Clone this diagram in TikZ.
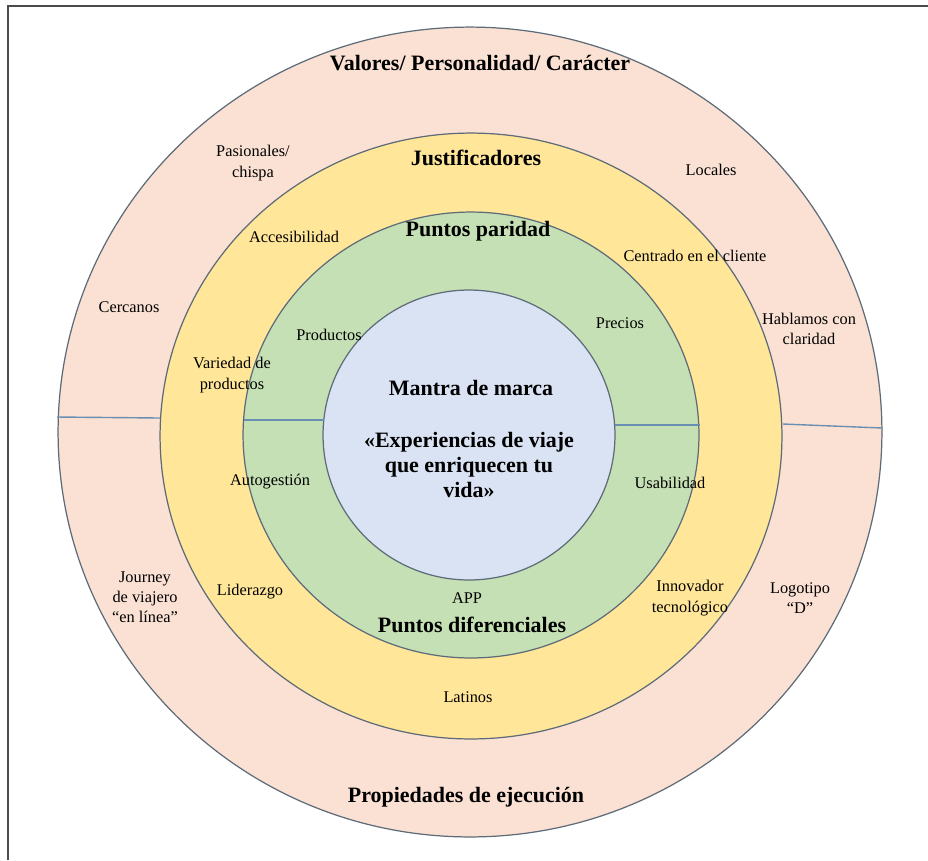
\documentclass[tikz,border=0pt]{standalone}
\usepackage{fontspec}
\setmainfont{Liberation Serif}
\usetikzlibrary{positioning}

\definecolor{ringpink}{HTML}{FAE1D3}
\definecolor{ringyellow}{HTML}{FFE699}
\definecolor{ringgreen}{HTML}{C5E0B4}
\definecolor{ringblue}{HTML}{DAE3F3}
\definecolor{ringline}{HTML}{5E6B78}
\definecolor{splitline}{HTML}{6B8FB3}

\begin{document}
\begin{tikzpicture}[x=0.02cm, y=-0.02cm,
    ring/.style={draw=ringline, line width=0.7pt},
    split/.style={draw=splitline, line width=0.8pt},
    head/.style={font=\fontsize{12.5}{14}\selectfont\bfseries, align=center, inner sep=1pt},
    lbl/.style={font=\fontsize{9.3}{11.5}\selectfont, align=center, inner sep=1pt}]
    \useasboundingbox (0,0) rectangle (928,860);
    \draw[line width=0.9pt, black!70] (8,860) -- (8,6) -- (928,6);

    % rings, outside in
    \filldraw[ring, fill=ringpink]   (470,432) ellipse [x radius=8.24cm, y radius=8.10cm];
    \filldraw[ring, fill=ringyellow] (471,436) ellipse [x radius=6.22cm, y radius=6.06cm];
    \filldraw[ring, fill=ringgreen]  (471,435) ellipse [x radius=4.56cm, y radius=4.46cm];
    \filldraw[ring, fill=ringblue]   (469,435) ellipse [x radius=2.92cm, y radius=2.90cm];

    % dividing lines
    \draw[split] (57,417) -- (160,418);
    \draw[split] (244,420) -- (324,420);
    \draw[split] (615,425) -- (700,425);
    \draw[split] (783,424) -- (882,428);

    % headings
    \node[head] (valores)  at (480,63)  {Valores/ Personalidad/ Carácter};
    \node[head] (justif)   at (476,158) {Justificadores};
    \node[head] (paridad)  at (478,231) {Puntos paridad};
    \node[head] (mantra)   at (471,388) {Mantra de marca};
    \node[head] (frase)    at (469,465) {«Experiencias de viaje\\que enriquecen tu\\vida»};
    \node[head] (difer)    at (472,625) {Puntos diferenciales};
    \node[head] (ejec)     at (466,797) {Propiedades de ejecución};

    % labels
    \node[lbl] (pasion)    at (253,163) {Pasionales/\\chispa};
    \node[lbl] (locales)   at (711,170) {Locales};
    \node[lbl] (acceso)    at (294,237) {Accesibilidad};
    \node[lbl] (centrado)  at (695,256) {Centrado en el cliente};
    \node[lbl] (cercanos)  at (129,307) {Cercanos};
    \node[lbl] (productos) at (329,335) {Productos};
    \node[lbl] (precios)   at (620,323) {Precios};
    \node[lbl] (hablamos)  at (809,329) {Hablamos con\\claridad};
    \node[lbl] (variedad)  at (232,375) {Variedad de\\productos};
    \node[lbl] (autoges)   at (270,482) {Autogestión};
    \node[lbl] (usab)      at (670,483) {Usabilidad};
    \node[lbl] (journey)   at (145,597) {Journey\\de viajero\\“en línea”};
    \node[lbl] (lider)     at (250,592) {Liderazgo};
    \node[lbl] (innova)    at (690,598) {Innovador\\tecnológico};
    \node[lbl] (logo)      at (800,598) {Logotipo\\“D”};
    \node[lbl] (app)       at (467,598) {APP};
    \node[lbl] (latinos)   at (468,697) {Latinos};
\end{tikzpicture}
\end{document}
